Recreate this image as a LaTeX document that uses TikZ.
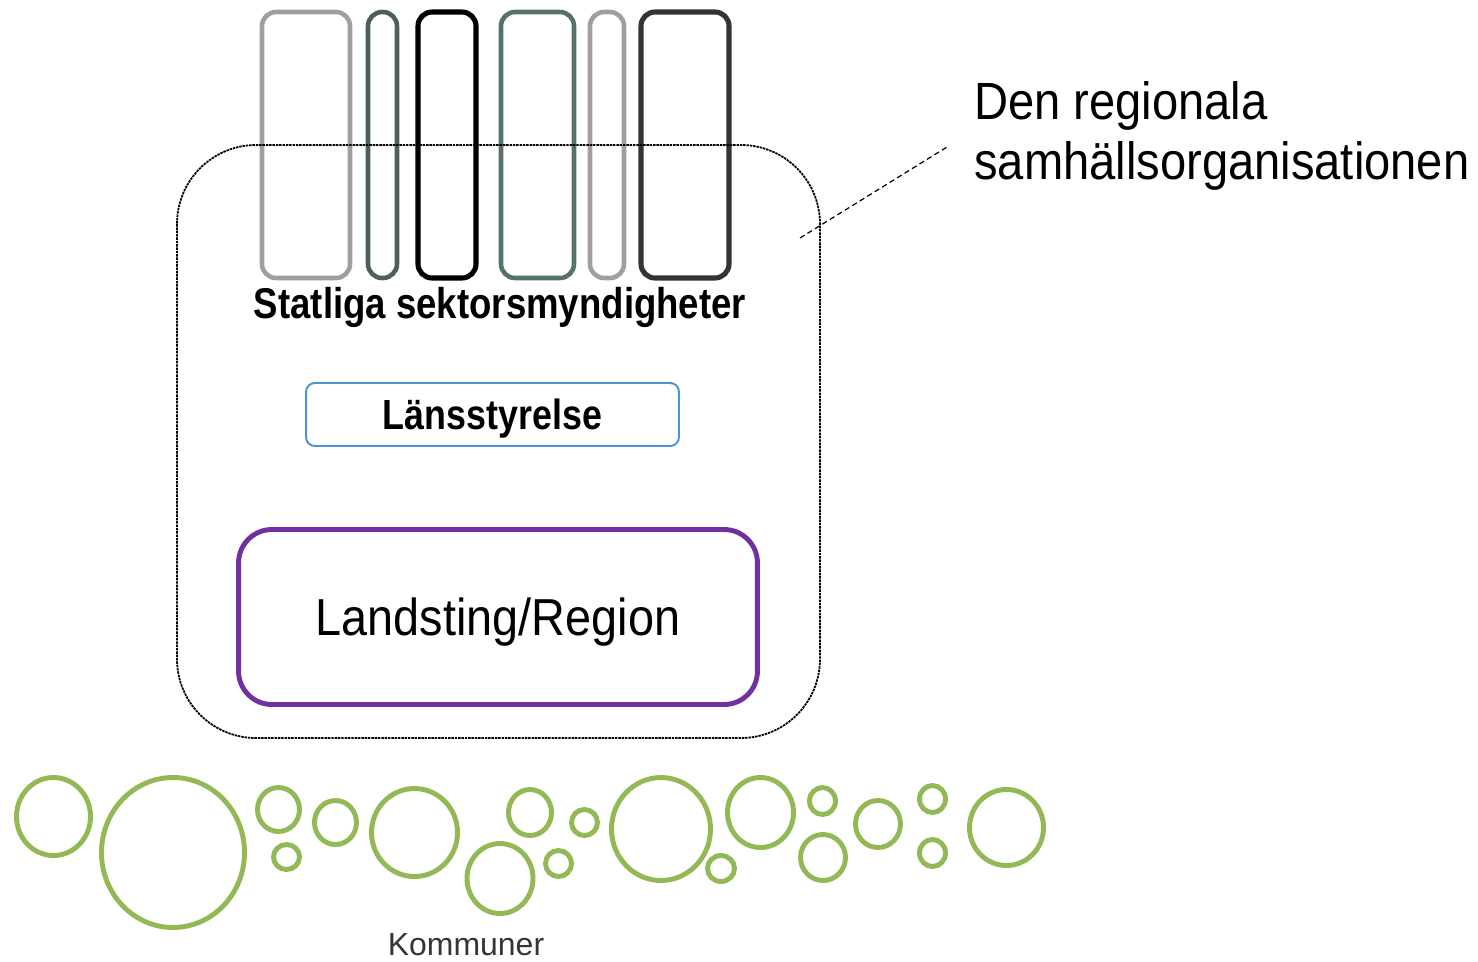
\documentclass[tikz,border=0pt]{standalone}
\usepackage{fontspec}
\setmainfont{Liberation Sans}
\newfontfamily\condfont[FakeStretch=0.85]{Liberation Sans}
\newfontfamily\wideltfont[FakeStretch=0.9]{Liberation Sans}
\definecolor{myndgray}{HTML}{A39E9B}
\definecolor{myndslate}{HTML}{4D5F5B}
\definecolor{myndteal}{HTML}{56706A}
\definecolor{mynddark}{HTML}{333333}
\definecolor{lanblue}{HTML}{4A93D6}
\definecolor{regpurple}{HTML}{7030A0}
\definecolor{kommungreen}{HTML}{93B957}
\definecolor{kommungray}{HTML}{353535}
\tikzset{
  myndighet/.style={line width=2.6pt, rounded corners=8pt},
  regionbox/.style={line width=1pt, dash pattern=on 1.4pt off 0.5pt, rounded corners=45pt},
  lanbox/.style={draw=lanblue, line width=1.1pt, rounded corners=5pt, inner sep=0pt,
    minimum width=7.46cm, minimum height=1.26cm, text height=17pt, text depth=0pt,
    font=\condfont\bfseries\fontsize{24}{28}\selectfont},
  regbox/.style={draw=regpurple, line width=2.8pt, rounded corners=19pt, inner sep=0pt,
    minimum width=10.38cm, minimum height=3.5cm, text height=21.2pt, text depth=0pt,
    font=\wideltfont\fontsize{29.6}{34}\selectfont},
  titeltext/.style={anchor=base west, inner sep=0pt, font=\wideltfont\fontsize{29.8}{34}\selectfont},
  leader/.style={line width=0.7pt, dash pattern=on 3pt off 2pt},
  kommun/.style={draw=kommungreen, line width=2.8pt}
}
\begin{document}
\begin{tikzpicture}[x=0.02cm,y=-0.02cm]
\useasboundingbox (0,0) rectangle (1478,961);
% statliga sektorsmyndigheter
\draw[myndighet, draw=myndgray] (262,12) rectangle (350,278);
\draw[myndighet, draw=myndslate] (368,12) rectangle (397,278);
\draw[myndighet, draw=black, line width=2.9pt] (418,12) rectangle (476,278);
\draw[myndighet, draw=myndteal] (501,12) rectangle (574,278);
\draw[myndighet, draw=myndgray] (590,12) rectangle (624,278);
\draw[myndighet, draw=mynddark, line width=2.9pt] (641,12) rectangle (729,278);
\node[anchor=base, inner sep=0pt, font=\condfont\bfseries\fontsize{24.5}{28}\selectfont] (statliga) at (500,318) {Statliga sektorsmyndigheter};
% regionen
\draw[regionbox] (177,145) rectangle (820,738);
\node[lanbox] (lan) at (492.5,414.5) {Länsstyrelse};
\node[regbox] (landsting) at (498,617) {Landsting/Region};
% rubrik
\coordinate (ledA) at (800,238);
\coordinate (ledB) at (947,147);
\draw[leader] (ledA) -- (ledB);
\node[titeltext] (titel1) at (974,119) {Den regionala};
\node[titeltext] (titel2) at (974,179) {samhällsorganisationen};
% kommuner
\foreach \cx/\cy/\rx/\ry in {53.5/816.5/37/39, 173/852.5/71.5/75, 278.5/809.5/21/22,
  286.5/857/13/12.5, 335.5/822.5/21/22, 414.5/832.5/43/44, 530/812.5/21.5/23,
  500/878.5/33/35, 584.5/822.5/13/13, 558.5/863.5/13/13, 661/829/49.5/51.5,
  760.5/812.5/33/35, 721/868.5/13.5/13, 822.5/801/13/13.5, 823/857.5/22.5/23,
  878/824/22.5/23.5, 932.5/799/13/13.5, 932.5/853/13/13.5, 1006.5/827.5/37/38}
  \draw[kommun] (\cx,\cy) ellipse [x radius=\rx, y radius=\ry];
\node[anchor=base, inner sep=0pt, text=kommungray, font=\fontsize{18.2}{22}\selectfont] (kommuner) at (466,955) {Kommuner};
\end{tikzpicture}
\end{document}
